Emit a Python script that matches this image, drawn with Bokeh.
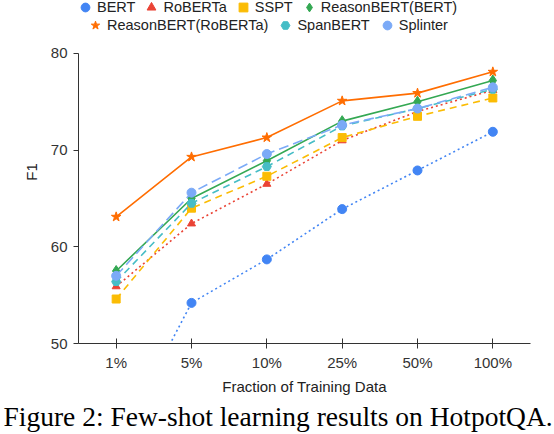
from bokeh.plotting import figure
from bokeh.models import Range1d, Legend, LegendItem, Title, FixedTicker
from bokeh.embed import file_html
from bokeh.resources import INLINE

# fractions of training data (x categories)
fractions = ["1%", "5%", "10%", "25%", "50%", "100%"]

# F1 scores
bert = [39.3, 54.2, 58.7, 63.9, 67.9, 71.9]
roberta = [55.9, 62.4, 66.5, 71.0, 74.0, 76.2]
sspt = [54.6, 64.0, 67.3, 71.3, 73.5, 75.4]
reason_bert = [57.5, 65.0, 68.9, 73.0, 75.0, 77.2]
reason_roberta = [63.1, 69.3, 71.3, 75.1, 75.9, 78.1]
spanbert = [56.4, 64.5, 68.3, 72.5, 74.3, 76.3]
splinter = [57.0, 65.6, 69.6, 72.6, 74.3, 76.5]

y_ticks = [50, 60, 70, 80]

names = ["BERT", "RoBERTa", "SSPT", "ReasonBERT(BERT)",
         "ReasonBERT(RoBERTa)", "SpanBERT", "Splinter"]
values = [bert, roberta, sspt, reason_bert, reason_roberta, spanbert, splinter]

# (color, marker, marker size, dash) per series
styles = [
    ("#4285f4", "circle", 9, "2 3"),
    ("#ea4335", "triangle", 8, "2 3"),
    ("#fbbc04", "square", 8, "7 5"),
    ("#34a853", "diamond", 11, "solid"),
    ("#ff6d01", "star", 10, "solid"),
    ("#46bdc6", "hex", 9, "7 5"),
    ("#7baaf7", "circle", 9, "10 5"),
]

xs = list(range(len(fractions)))

# frame reaches the top of the page so the legend rows fit inside it;
# the y axis itself is bounded to 50..80
p = figure(frame_width=452, frame_height=343, output_backend="svg",
           toolbar_location=None,
           x_range=Range1d(-0.5, 5.5), y_range=Range1d(50, 85.48),
           min_border_left=78, min_border_right=24, min_border_top=0,
           min_border_bottom=91)

p.xgrid.visible = False
p.ygrid.visible = False
p.outline_line_color = None

items = []
for name, ys, (clr, mk, sz, dash) in zip(names, values, styles):
    p.line(xs, ys, line_color=clr, line_width=1.6, line_dash=dash)
    r = p.scatter(xs, ys, marker=mk, size=sz, fill_color=clr, line_color=clr)
    items.append(LegendItem(label=name, renderers=[r]))

for ax in (p.xaxis[0], p.yaxis[0]):
    ax.axis_line_color = "#333333"
    ax.major_tick_line_color = "#333333"
    ax.minor_tick_line_color = None
    ax.major_label_text_font = "Liberation Sans"
    ax.major_label_text_font_size = "15px"
    ax.major_label_text_color = "#333333"
    ax.axis_label_text_font = "Liberation Sans"
    ax.axis_label_text_font_size = "15px"
    ax.axis_label_text_font_style = "normal"
    ax.axis_label_text_color = "#222222"

p.xaxis.ticker = FixedTicker(ticks=xs)
p.xaxis.major_label_overrides = {i: f for i, f in enumerate(fractions)}
p.xaxis.major_tick_in = 5
p.xaxis.major_tick_out = 5
p.xaxis.major_label_standoff = 5
p.xaxis.axis_label_standoff = 4
p.xaxis.axis_label = "Fraction of Training Data"
p.yaxis.ticker = FixedTicker(ticks=y_ticks)
p.yaxis.bounds = (y_ticks[0], y_ticks[-1])
p.yaxis.major_tick_in = 0
p.yaxis.major_tick_out = 5
p.yaxis.major_label_standoff = 6
p.yaxis.axis_label_standoff = 8
p.yaxis.axis_label = "F1"

def make_legend(its, loc, gap):
    return Legend(items=its, orientation="horizontal", location=loc,
                  border_line_alpha=0, background_fill_alpha=0,
                  label_text_font="Liberation Sans",
                  label_text_font_size="14.5px", label_text_color="#222222",
                  glyph_width=22, glyph_height=22, label_height=22,
                  spacing=gap, padding=0, margin=0, label_standoff=1)

p.add_layout(make_legend(items[:4], (-4, 325), 5))
p.add_layout(make_legend(items[4:], (6, 307), 6))

p.add_layout(Title(text="Figure 2: Few-shot learning results on HotpotQA.",
                   align="left", offset=-75, text_font="Liberation Serif",
                   text_font_size="27.5px", text_font_style="normal",
                   text_color="#000000", standoff=2), "below")

open("out.html", "w").write(file_html(p, INLINE))
